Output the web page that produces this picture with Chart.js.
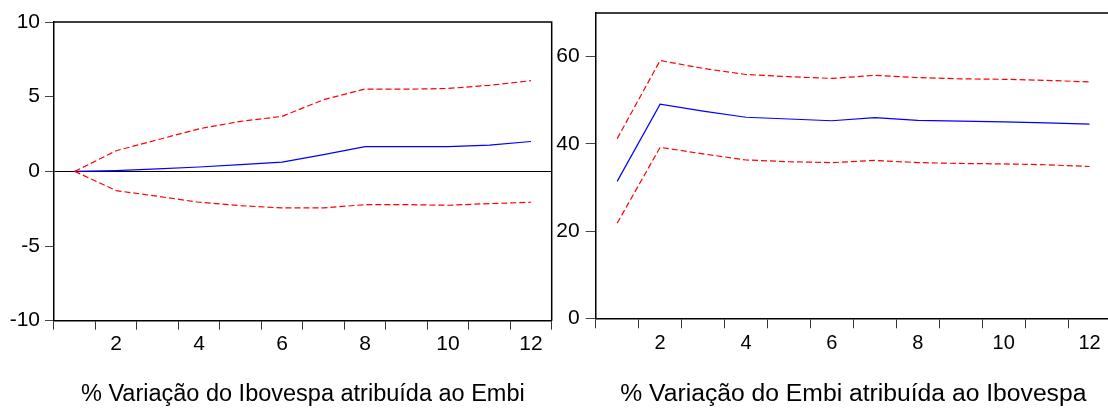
<!DOCTYPE html>
<html>
<head>
<meta charset="utf-8">
<script src="https://cdn.jsdelivr.net/npm/chart.js@4.4.1/dist/chart.umd.min.js"></script>
<style>
  html, body { margin: 0; padding: 0; background: #fff; overflow: hidden; width: 1108px; height: 408px; }
  #wrap { position: relative; width: 1108px; height: 408px; overflow: hidden; }
  canvas { position: absolute; top: 0; }
  #left { left: 0; }
  #right { left: 553px; }
</style>
</head>
<body>
<div id="wrap">
  <canvas id="left" width="556" height="408"></canvas>
  <canvas id="right" width="570" height="408"></canvas>
</div>
<script>
// Horizons (periods after the shock)
const periods = ['1', '2', '3', '4', '5', '6', '7', '8', '9', '10', '11', '12'];

// Response of Ibovespa attributed to Embi, with +/- 2 s.e. bands
const ibovResponse = [0, 0.05, 0.16, 0.29, 0.45, 0.62, 1.12, 1.65, 1.65, 1.65, 1.75, 2.0];
const ibovUpper    = [0, 1.38, 2.12, 2.85, 3.35, 3.68, 4.8, 5.51, 5.5, 5.55, 5.76, 6.07];
const ibovLower    = [0, -1.29, -1.67, -2.07, -2.3, -2.45, -2.45, -2.23, -2.23, -2.27, -2.16, -2.07];
const ibovTicks    = [-10, -5, 0, 5, 10];
const ibovTitle    = '% Variação do Ibovespa atribuída ao Embi';

// Response of Embi attributed to Ibovespa, with +/- 2 s.e. bands
const embiResponse = [31.4, 49.1, 47.5, 46.1, 45.7, 45.3, 46.0, 45.4, 45.2, 45.05, 44.8, 44.5];
const embiUpper    = [41.2, 59.1, 57.3, 55.9, 55.4, 55.0, 55.7, 55.2, 54.9, 54.8, 54.55, 54.2];
const embiLower    = [21.8, 39.2, 37.7, 36.3, 35.9, 35.7, 36.2, 35.7, 35.5, 35.4, 35.2, 34.8];
const embiTicks    = [0, 20, 40, 60];
const embiTitle    = '% Variação do Embi atribuída ao Ibovespa';

const FONT = 'Liberation Sans, Arial, sans-serif';

// Closes the plot box on its top and right sides
const framePlugin = {
  id: 'frame',
  afterDatasetsDraw(chart) {
    const { ctx, chartArea: a } = chart;
    ctx.save();
    ctx.strokeStyle = '#000';
    ctx.lineWidth = 1.5;
    ctx.beginPath();
    ctx.moveTo(a.left, a.top);
    ctx.lineTo(a.right, a.top);
    ctx.lineTo(a.right, a.bottom);
    ctx.stroke();
    ctx.restore();
  }
};

function lineSet(data, color, dashed) {
  return {
    data,
    borderColor: color,
    borderWidth: 1.2,
    borderDash: dashed ? [6, 3] : [],
    pointRadius: 0,
    tension: 0,
    fill: false
  };
}

function makeChart(id, cfg) {
  return new Chart(document.getElementById(id), {
    type: 'line',
    data: {
      labels: periods,
      datasets: [
        lineSet(cfg.upper, '#ff0000', true),
        lineSet(cfg.lower, '#ff0000', true),
        lineSet(cfg.response, '#0000ff', false)
      ]
    },
    options: {
      responsive: false,
      animation: false,
      devicePixelRatio: 1,
      layout: { padding: { left: 0, top: cfg.padTop, right: cfg.padRight, bottom: 0 } },
      plugins: { legend: { display: false }, tooltip: { enabled: false } },
      scales: {
        x: {
          type: 'category',
          offset: true,
          border: { display: true, color: '#000', width: 1.5 },
          grid: {
            offset: true,
            drawOnChartArea: false,
            drawTicks: true,
            tickLength: cfg.xTickLen,
            color: '#333',
            tickColor: '#333'
          },
          ticks: {
            autoSkip: false,
            maxRotation: 0,
            padding: cfg.xTickPad,
            color: '#000',
            font: { family: FONT, size: cfg.xFont, lineHeight: 1 },
            callback(value) {
              const lab = this.getLabelForValue(value);
              return Number(lab) % 2 === 0 ? lab : '';
            }
          },
          title: {
            display: true,
            text: cfg.title,
            color: '#000',
            font: { family: FONT, size: cfg.titleFont, lineHeight: 1 },
            padding: { top: 0, bottom: cfg.titlePad }
          },
          afterFit(scale) {
            scale.height = cfg.xHeight;
            scale.paddingLeft = 0;
            scale.paddingRight = 0;
          }
        },
        y: {
          type: 'linear',
          min: cfg.ticks[0],
          max: cfg.max,
          border: { display: true, color: '#000', width: 1.5 },
          grid: {
            drawOnChartArea: cfg.zeroLine,
            drawTicks: true,
            tickLength: cfg.yTickLen,
            color: (c) => (cfg.zeroLine && c.tick && c.tick.value === 0) ? '#000' : 'rgba(0,0,0,0)',
            tickColor: '#444',
            lineWidth: 1
          },
          ticks: {
            padding: cfg.yTickPad,
            color: '#000',
            font: { family: FONT, size: cfg.yFont, lineHeight: 1 }
          },
          afterBuildTicks(scale) { scale.ticks = cfg.ticks.map(v => ({ value: v })); },
          afterFit(scale) {
            scale.width = cfg.yWidth;
            scale.paddingTop = 0;
            scale.paddingBottom = 0;
          }
        }
      }
    },
    plugins: [framePlugin]
  });
}

makeChart('left', {
  response: ibovResponse, upper: ibovUpper, lower: ibovLower,
  ticks: ibovTicks, max: 10, zeroLine: true, title: ibovTitle,
  padTop: 22, padRight: 4.3, yWidth: 54, xHeight: 87.3,
  xTickLen: 9, xTickPad: 4, xFont: 21,
  yTickLen: 9, yTickPad: 5, yFont: 21,
  titleFont: 23.5, titlePad: 1.8
});

makeChart('right', {
  response: embiResponse, upper: embiUpper, lower: embiLower,
  ticks: embiTicks, max: 70, zeroLine: false, title: embiTitle,
  padTop: 13, padRight: 12, yWidth: 42.7, xHeight: 89.7,
  xTickLen: 10, xTickPad: 5, xFont: 20,
  yTickLen: 10, yTickPad: 6, yFont: 21,
  titleFont: 24.7, titlePad: 1.2
});
</script>
</body>
</html>
